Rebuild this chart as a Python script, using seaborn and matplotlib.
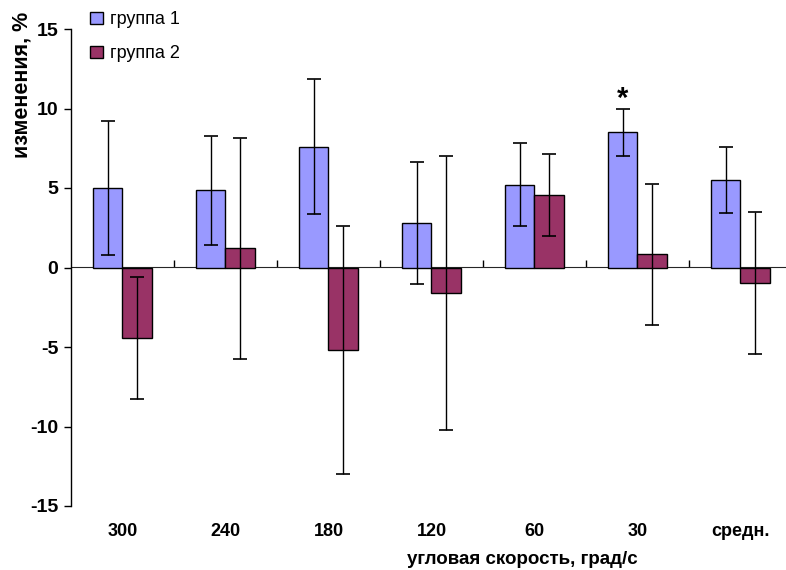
import matplotlib
matplotlib.use("Agg")
import matplotlib.pyplot as plt
from matplotlib.patches import Patch
import seaborn as sns
import pandas as pd
import numpy as np

categories = ["300", "240", "180", "120", "60", "30", "средн."]
group1 = [5.0, 4.85, 7.6, 2.8, 5.2, 8.5, 5.5]
group1_err = [4.2, 3.45, 4.25, 3.85, 2.62, 1.5, 2.07]
group2 = [-4.45, 1.2, -5.2, -1.62, 4.55, 0.82, -0.97]
group2_err = [3.85, 6.95, 7.8, 8.63, 2.57, 4.43, 4.45]
series_names = ["группа 1", "группа 2"]
colors = ["#9999FF", "#993366"]

sns.set_style("white")
plt.rcParams["font.family"] = ["Liberation Sans", "DejaVu Sans"]
plt.rcParams.update({"text.color": "black", "axes.labelcolor": "black",
                     "xtick.color": "black", "ytick.color": "black"})

df = pd.DataFrame({
    "cat": categories * 2,
    "value": group1 + group2,
    "err": group1_err + group2_err,
    "group": [series_names[0]] * len(categories) + [series_names[1]] * len(categories),
})

fig = plt.figure(figsize=(7.86, 5.70), dpi=100)
ax = fig.add_axes([71 / 786, 64 / 570, 721 / 786, 477 / 570])

sns.barplot(data=df, x="cat", y="value", hue="group", order=categories,
            hue_order=series_names, palette=colors, saturation=1,
            width=0.573, gap=0, errorbar=None, edgecolor="black",
            linewidth=1.0, legend=False, ax=ax)

# error bars centred on each bar
for gi, (vals, errs) in enumerate([(group1, group1_err), (group2, group2_err)]):
    for ci in range(len(categories)):
        p = ax.patches[gi * len(categories) + ci]
        xc = p.get_x() + p.get_width() / 2
        ax.errorbar(xc, vals[ci], yerr=errs[ci], fmt="none", ecolor="black",
                    elinewidth=1.0, capsize=5, capthick=1.2, zorder=4)

# significance mark
ax.text(5 - 0.573 / 4, group1[5] + group1_err[5] - 0.25, "*", ha="center",
        va="bottom", fontsize=21, fontweight="bold")

ax.set_xlim(-0.5, len(categories) - 0.5)
ax.set_ylim(-15, 15)
ax.set_yticks([-15, -10, -5, 0, 5, 10, 15])
ax.set_yticklabels(["-15", "-10", "-5", "0", "5", "10", "15"],
                   fontsize=14, fontweight="bold")
ax.tick_params(axis="y", direction="out", length=5, width=1, left=True, pad=4)

ax.set_xticks(range(len(categories)))
ax.set_xticklabels(categories, fontsize=13, fontweight="bold")
ax.tick_params(axis="x", length=0, pad=12)
ax.set_xlabel("")
ax.set_ylabel("")

for side in ["top", "right", "bottom"]:
    ax.spines[side].set_visible(False)
ax.spines["left"].set_color("black")
ax.spines["left"].set_linewidth(1.0)

# zero line with category separators
zero = ax.secondary_xaxis(0.5)
zero.set_xticks(np.arange(0.5, len(categories) - 0.5, 1.0))
zero.set_xticklabels([])
zero.tick_params(direction="out", length=5, width=1, color="black")
zero.spines["bottom"].set_color("black")
zero.spines["bottom"].set_linewidth(1.0)

fig.text(522 / 786, 1 - 560 / 570, "угловая скорость, град/с", ha="center",
         va="center", fontsize=13.5, fontweight="bold")
fig.text(22 / 786, 1 - 85 / 570, "изменения, %", ha="center", va="center",
         rotation=90, fontsize=15.5, fontweight="bold")

handles = [Patch(facecolor=c, edgecolor="black", linewidth=1.0) for c in colors]
fig.legend(handles, series_names, loc="upper left",
           bbox_to_anchor=(74 / 786, 1 + 5 / 570), frameon=False,
           prop={"size": 13}, handlelength=0.7,
           handleheight=0.7, handletextpad=0.4, labelspacing=0.95)

fig.savefig("out.png", dpi=100)
